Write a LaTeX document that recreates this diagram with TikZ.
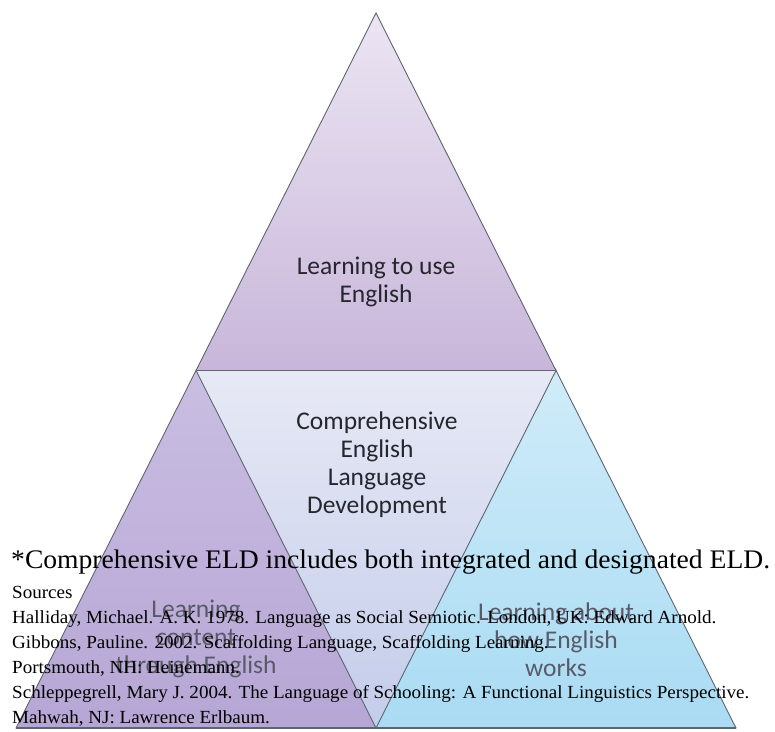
\documentclass[tikz,border=0pt]{standalone}
\usepackage{fontspec}
\setmainfont{Liberation Serif}[FakeStretch=1.03]
\newfontfamily\lblfont{Carlito}
\definecolor{topT}{HTML}{ECE5F3}
\definecolor{topB}{HTML}{C8B6DA}
\definecolor{leftT}{HTML}{CABEE2}
\definecolor{leftB}{HTML}{B6A6D5}
\definecolor{midT}{HTML}{E7E9F5}
\definecolor{midB}{HTML}{C3CCEA}
\definecolor{rightT}{HTML}{D0ECF9}
\definecolor{rightB}{HTML}{A9DBF3}
\definecolor{edge}{HTML}{5E6570}
\definecolor{lbl}{HTML}{26262E}
\definecolor{lblfaint}{HTML}{595A69}
\tikzset{
  tri/.style={draw=edge, line width=0.9pt, line join=miter},
  lbltext/.style={font=\lblfont\fontsize{25.5}{28}\selectfont, text=lbl, align=center, inner sep=0pt},
  lblfaded/.style={lbltext, text=lblfaint},
  bigline/.style={font=\fontsize{26.8}{30}\selectfont, anchor=base west, inner sep=0pt, text=black},
  srcline/.style={font=\fontsize{18.5}{22}\selectfont, anchor=base west, inner sep=0pt, text=black}
}
\begin{document}
\begin{tikzpicture}[x=1pt,y=-1pt]
\useasboundingbox (0,0) rectangle (775,731);
\fill[white] (0,0) rectangle (775,731);
% corners
\coordinate (A) at (376,13);
\coordinate (BL) at (16,728);
\coordinate (BR) at (736,728);
\coordinate (ML) at (196,370.5);
\coordinate (MR) at (556,370.5);
\coordinate (MB) at (376,728);
% fills
\shade[top color=topT, bottom color=topB] (A) -- (ML) -- (MR) -- cycle;
\shade[top color=leftT, bottom color=leftB] (ML) -- (BL) -- (MB) -- cycle;
\shade[top color=midT, bottom color=midB] (ML) -- (MR) -- (MB) -- cycle;
\shade[top color=rightT, bottom color=rightB] (MR) -- (MB) -- (BR) -- cycle;
% edges
\draw[tri] (A) -- (ML) -- (MR) -- cycle;
\draw[tri] (ML) -- (BL) -- (MB) -- cycle;
\draw[tri] (MR) -- (MB) -- (BR) -- cycle;
\draw[edge, line width=1.6pt] (BL) -- (BR);
% labels
\node[lbltext] (use) at (376,282) {Learning to use\\English};
\node[lbltext] (celd) at (377,465) {Comprehensive\\English\\Language\\Development};
\node[lblfaded] (content) at (196,639) {Learning\\content\\through English};
\node[lblfaded] (about) at (556,640) {Learning about\\how English\\works};
% overlay text
\node[bigline] (note) at (11,568) {*Comprehensive ELD includes both integrated and designated ELD.};
\node[srcline] (s0) at (12,598) {Sources};
\node[srcline] (s1) at (12,623) {Halliday, Michael. A. K. 1978. Language as Social Semiotic. London, UK: Edward Arnold.};
\node[srcline] (s2) at (12,648) {Gibbons, Pauline. 2002. Scaffolding Language, Scaffolding Learning.};
\node[srcline] (s3) at (12,673) {Portsmouth, NH: Heinemann.};
\node[srcline] (s4) at (12,698) {Schleppegrell, Mary J. 2004. The Language of Schooling: A Functional Linguistics Perspective.};
\node[srcline] (s5) at (12,723) {Mahwah, NJ: Lawrence Erlbaum.};
\end{tikzpicture}
\end{document}
